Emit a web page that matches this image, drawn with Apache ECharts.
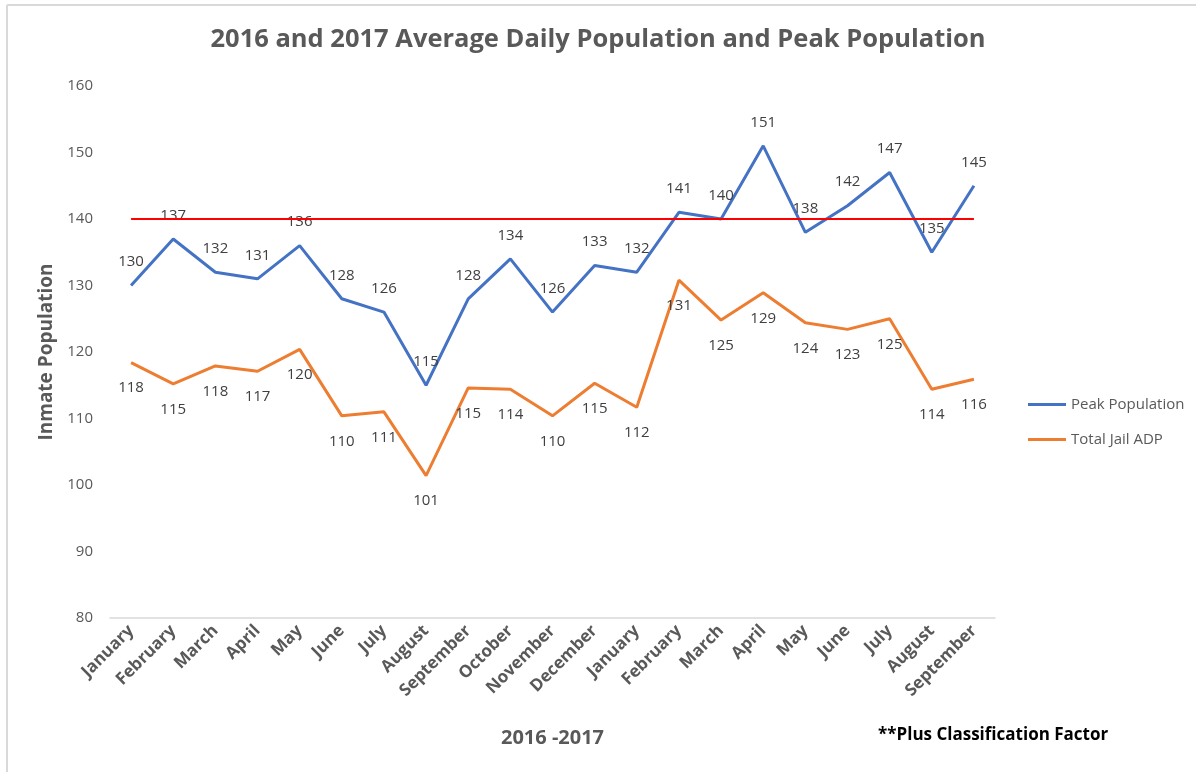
<!DOCTYPE html>
<html>
<head>
<meta charset="utf-8">
<title>Average Daily Population and Peak Population</title>
<script src="https://cdn.jsdelivr.net/npm/echarts@6/dist/echarts.min.js"></script>
<style>
html, body { margin: 0; padding: 0; background: #fff; }
#chart { width: 1196px; height: 772px; }
</style>
</head>
<body>
<div id="chart"></div>
<script>
var months = ['January', 'February', 'March', 'April', 'May', 'June', 'July', 'August',
	'September', 'October', 'November', 'December', 'January', 'February', 'March',
	'April', 'May', 'June', 'July', 'August', 'September'];

var peak_population = [130, 137, 132, 131, 136, 128, 126, 115, 128, 134, 126, 133, 132,
	141, 140, 151, 138, 142, 147, 135, 145];

var total_jail_adp = [118.4, 115.2, 117.9, 117.1, 120.4, 110.4, 111.0, 101.4, 114.6, 114.4,
	110.4, 115.3, 111.7, 130.8, 124.8, 128.9, 124.4, 123.4, 125.0, 114.4, 115.9];

var capacity_line = 140;

var font = '"Open Sans", "Noto Sans", sans-serif';
var chart = echarts.init(document.getElementById('chart'));

function rounded(p) {
	return Math.round(p.value);
}

var option = {
	animation: false,
	textStyle: { fontFamily: font },
	title: {
		text: '2016 and 2017 Average Daily Population and Peak Population',
		left: 'center',
		top: 22,
		textStyle: {
			fontFamily: font,
			fontSize: 25.5,
			fontWeight: 'bold',
			color: '#595959'
		}
	},
	legend: {
		orient: 'vertical',
		left: 1023,
		top: 392,
		itemWidth: 38,
		itemHeight: 14,
		itemGap: 20,
		icon: 'path://M0,5.5 L38,5.5 L38,8.5 L0,8.5 Z',
		textStyle: { fontFamily: font, fontSize: 15, color: '#595959' },
		data: ['Peak Population', 'Total Jail ADP']
	},
	grid: {
		left: 110,
		right: 201,
		top: 86,
		bottom: 154
	},
	xAxis: {
		type: 'category',
		data: months,
		name: '2016 -2017',
		nameLocation: 'middle',
		nameGap: 110,
		nameTextStyle: { fontFamily: font, fontSize: 20, fontWeight: 'bold', color: '#595959' },
		axisLine: { lineStyle: { color: '#d9d9d9', width: 1.5 } },
		axisTick: { show: false },
		axisLabel: {
			interval: 0,
			rotate: 45,
			fontFamily: font,
			fontSize: 17,
			fontWeight: 'bold',
			color: '#595959',
			margin: 10
		}
	},
	yAxis: {
		type: 'value',
		min: 80,
		max: 160,
		interval: 10,
		name: 'Inmate Population',
		nameLocation: 'middle',
		nameGap: 53,
		nameTextStyle: { fontFamily: font, fontSize: 19, fontWeight: 'bold', color: '#595959' },
		axisLine: { show: false },
		axisTick: { show: false },
		splitLine: { show: false },
		axisLabel: { fontFamily: font, fontSize: 15, color: '#595959', margin: 17 }
	},
	series: [
		{
			name: 'Peak Population',
			type: 'line',
			data: peak_population,
			showSymbol: true,
			symbol: 'circle',
			symbolSize: 0,
			lineStyle: { color: '#4472C4', width: 3 },
			itemStyle: { color: '#4472C4' },
			label: {
				show: true,
				position: 'top',
				distance: 16,
				fontFamily: font,
				fontSize: 15,
				color: '#404040',
				formatter: rounded
			},
			markLine: {
				silent: true,
				symbol: 'none',
				label: { show: false },
				lineStyle: { color: '#FF0000', width: 2, type: 'solid' },
				data: [[{ coord: [0, capacity_line] }, { coord: [months.length - 1, capacity_line] }]]
			}
		},
		{
			name: 'Total Jail ADP',
			type: 'line',
			data: total_jail_adp,
			showSymbol: true,
			symbol: 'circle',
			symbolSize: 0,
			lineStyle: { color: '#ED7D31', width: 3 },
			itemStyle: { color: '#ED7D31' },
			label: {
				show: true,
				position: 'bottom',
				distance: 18,
				fontFamily: font,
				fontSize: 15,
				color: '#404040',
				formatter: rounded
			}
		}
	],
	graphic: [
		{
			type: 'line',
			shape: { x1: 7, y1: 5, x2: 1196, y2: 5 },
			style: { stroke: '#d9d9d9', lineWidth: 2 }
		},
		{
			type: 'line',
			shape: { x1: 7, y1: 5, x2: 7, y2: 772 },
			style: { stroke: '#d9d9d9', lineWidth: 2 }
		},
		{
			type: 'text',
			left: 878,
			top: 727,
			style: {
				text: '**Plus Classification Factor',
				font: 'bold 17px ' + font,
				fill: '#000'
			}
		}
	]
};
chart.setOption(option);
</script>
</body>
</html>
